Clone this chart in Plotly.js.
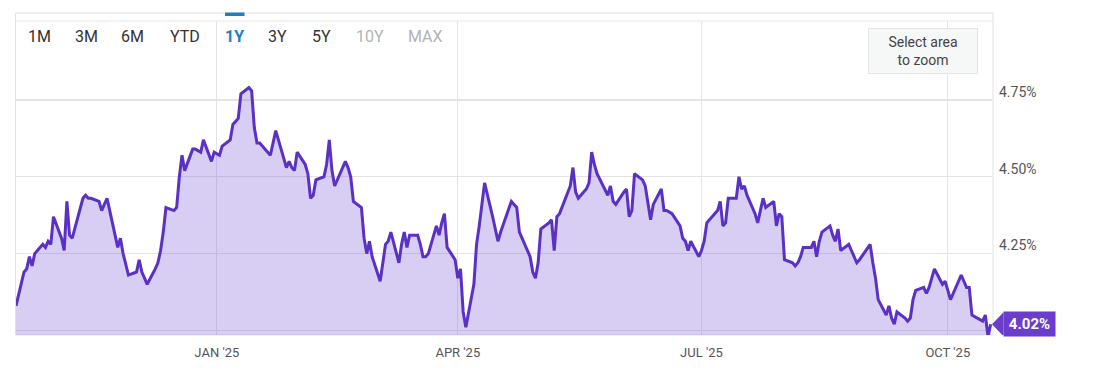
<!DOCTYPE html>
<html>
<head>
<meta charset="utf-8">
<script src="https://cdn.plot.ly/plotly-3.0.1.min.js"></script>
<style>
  html, body { margin: 0; padding: 0; background: #ffffff; }
  #chart { width: 1097px; height: 372px; }
</style>
</head>
<body>
<div id="chart"></div>
<script>
// ---- data (10-year yield, %, business days) ----
const dates = [
  '2024-10-18','2024-10-21','2024-10-22','2024-10-23','2024-10-24','2024-10-25','2024-10-28','2024-10-29','2024-10-30','2024-10-31',
  '2024-11-01','2024-11-04','2024-11-05','2024-11-06','2024-11-07','2024-11-08','2024-11-12','2024-11-13','2024-11-14','2024-11-15',
  '2024-11-18','2024-11-19','2024-11-20','2024-11-21','2024-11-22','2024-11-25','2024-11-26','2024-11-27','2024-11-29',
  '2024-12-02','2024-12-03','2024-12-04','2024-12-05','2024-12-06','2024-12-09','2024-12-10','2024-12-11','2024-12-12','2024-12-13',
  '2024-12-16','2024-12-17','2024-12-18','2024-12-19','2024-12-20','2024-12-23','2024-12-24','2024-12-26','2024-12-27','2024-12-30','2024-12-31',
  '2025-01-02','2025-01-03','2025-01-06','2025-01-07','2025-01-08','2025-01-09','2025-01-10','2025-01-13','2025-01-14','2025-01-15',
  '2025-01-16','2025-01-17','2025-01-21','2025-01-22','2025-01-23','2025-01-24','2025-01-27','2025-01-28','2025-01-29','2025-01-30','2025-01-31',
  '2025-02-03','2025-02-04','2025-02-05','2025-02-06','2025-02-07','2025-02-10','2025-02-11','2025-02-12','2025-02-13','2025-02-14',
  '2025-02-18','2025-02-19','2025-02-20','2025-02-21','2025-02-24','2025-02-25','2025-02-26','2025-02-27','2025-02-28',
  '2025-03-03','2025-03-04','2025-03-05','2025-03-06','2025-03-07','2025-03-10','2025-03-11','2025-03-12','2025-03-13','2025-03-14',
  '2025-03-17','2025-03-18','2025-03-19','2025-03-20','2025-03-21','2025-03-24','2025-03-25','2025-03-26','2025-03-27','2025-03-28','2025-03-31',
  '2025-04-01','2025-04-02','2025-04-03','2025-04-04','2025-04-07','2025-04-08','2025-04-09','2025-04-10','2025-04-11',
  '2025-04-14','2025-04-15','2025-04-16','2025-04-17','2025-04-21','2025-04-22','2025-04-23','2025-04-24','2025-04-25','2025-04-28','2025-04-29','2025-04-30',
  '2025-05-01','2025-05-02','2025-05-05','2025-05-06','2025-05-07','2025-05-08','2025-05-09','2025-05-12','2025-05-13','2025-05-14','2025-05-15','2025-05-16',
  '2025-05-19','2025-05-20','2025-05-21','2025-05-22','2025-05-23','2025-05-27','2025-05-28','2025-05-29','2025-05-30',
  '2025-06-02','2025-06-03','2025-06-04','2025-06-05','2025-06-06','2025-06-09','2025-06-10','2025-06-11','2025-06-12','2025-06-13',
  '2025-06-16','2025-06-17','2025-06-18','2025-06-20','2025-06-23','2025-06-24','2025-06-25','2025-06-26','2025-06-27','2025-06-30',
  '2025-07-01','2025-07-02','2025-07-03','2025-07-07','2025-07-08','2025-07-09','2025-07-10','2025-07-11','2025-07-14','2025-07-15',
  '2025-07-16','2025-07-17','2025-07-18','2025-07-21','2025-07-22','2025-07-23','2025-07-24','2025-07-25','2025-07-28','2025-07-29','2025-07-30','2025-07-31',
  '2025-08-01','2025-08-04','2025-08-05','2025-08-06','2025-08-07','2025-08-08','2025-08-11','2025-08-12','2025-08-13','2025-08-14','2025-08-15',
  '2025-08-18','2025-08-19','2025-08-20','2025-08-21','2025-08-22','2025-08-25','2025-08-26','2025-08-27','2025-08-28','2025-08-29',
  '2025-09-02','2025-09-03','2025-09-04','2025-09-05','2025-09-08','2025-09-09','2025-09-10','2025-09-11','2025-09-12',
  '2025-09-15','2025-09-16','2025-09-17','2025-09-18','2025-09-19','2025-09-22','2025-09-23','2025-09-24','2025-09-25','2025-09-26','2025-09-29','2025-09-30',
  '2025-10-01','2025-10-02','2025-10-03','2025-10-06','2025-10-07','2025-10-08','2025-10-09','2025-10-10','2025-10-14','2025-10-15','2025-10-16','2025-10-17'
];
const yields = [
  4.08,4.19,4.20,4.24,4.21,4.25,4.28,4.27,4.29,4.28,
  4.37,4.30,4.26,4.42,4.31,4.30,4.43,4.44,4.43,4.43,
  4.42,4.39,4.41,4.43,4.39,4.27,4.30,4.25,4.18,
  4.19,4.23,4.19,4.17,4.15,4.20,4.22,4.26,4.32,4.40,
  4.39,4.40,4.50,4.57,4.52,4.59,4.59,4.58,4.62,4.55,4.58,
  4.57,4.60,4.62,4.67,4.68,4.69,4.77,4.79,4.78,4.66,
  4.61,4.61,4.57,4.61,4.65,4.62,4.53,4.55,4.53,4.52,4.58,
  4.54,4.51,4.43,4.44,4.49,4.50,4.54,4.62,4.52,4.47,
  4.55,4.53,4.50,4.42,4.40,4.30,4.25,4.29,4.24,
  4.16,4.22,4.28,4.29,4.32,4.22,4.28,4.32,4.27,4.31,
  4.31,4.28,4.24,4.24,4.25,4.34,4.31,4.35,4.38,4.27,4.23,
  4.17,4.20,4.06,4.01,4.15,4.28,4.34,4.42,4.48,
  4.37,4.33,4.29,4.32,4.42,4.41,4.40,4.32,4.30,4.24,4.19,4.17,
  4.22,4.33,4.35,4.36,4.26,4.37,4.38,4.45,4.47,4.53,4.45,4.43,
  4.46,4.48,4.58,4.54,4.51,4.44,4.47,4.42,4.41,
  4.45,4.46,4.37,4.39,4.51,4.49,4.47,4.42,4.36,4.41,
  4.46,4.39,4.39,4.38,4.34,4.30,4.29,4.26,4.29,4.24,
  4.26,4.29,4.35,4.39,4.42,4.34,4.35,4.43,4.43,4.50,
  4.46,4.47,4.44,4.38,4.35,4.39,4.43,4.40,4.42,4.34,4.38,4.37,
  4.23,4.22,4.21,4.22,4.24,4.27,4.27,4.29,4.24,4.29,4.32,
  4.34,4.31,4.29,4.33,4.26,4.28,4.26,4.24,4.22,4.23,
  4.28,4.22,4.17,4.10,4.05,4.08,4.04,4.02,4.06,
  4.04,4.03,4.04,4.10,4.13,4.14,4.12,4.14,4.17,4.20,4.15,4.16,
  4.13,4.10,4.12,4.18,4.16,4.14,4.14,4.05,4.03,4.05,3.98,4.02
];
const xTickVals = ['2025-01-01','2025-04-01','2025-07-01','2025-10-01'];
const xTickText = ["JAN '25","APR '25","JUL '25","OCT '25"];
const yTickVals = [4.00, 4.25, 4.50, 4.75];
const yTickText = ['', '4.25%', '4.50%', '4.75%'];
const periods = ['1M','3M','6M','YTD','1Y','3Y','5Y','10Y','MAX'];
const periodX = [39, 86, 132.5, 185, 234, 277.5, 321, 369.5, 425.5];
const periodState = ['on','on','on','on','active','on','on','off','off'];

// ---- layout geometry ----
const ML = 16, PW = 976, PT = 21, PB = 335, PH = PB - PT;
const px = x => (x - ML) / PW;
const py = y => (PB - y) / PH;

const purple = '#5a31c4';
const badge = '#6a3dcc';
const lastVal = yields[yields.length - 1];

const trace = {
  type: 'scatter',
  mode: 'lines',
  x: dates,
  y: yields,
  line: { color: purple, width: 3, shape: 'linear' },
  fill: 'tozeroy',
  fillcolor: 'rgba(112,72,212,0.27)',
  hoverinfo: 'skip'
};

const annotations = periods.map((p, i) => ({
  xref: 'paper', yref: 'paper',
  x: px(periodX[i]), y: py(36),
  xanchor: 'center', yanchor: 'middle',
  showarrow: false,
  text: periodState[i] === 'active' ? '<b>' + p + '</b>' : p,
  font: {
    family: 'Roboto, sans-serif', size: 16,
    color: periodState[i] === 'active' ? '#1f7fc4' : (periodState[i] === 'off' ? '#b3b3b3' : '#333333')
  }
}));

annotations.push({
  xref: 'paper', yref: 'paper',
  x: px(923), y: py(51),
  xanchor: 'center', yanchor: 'middle',
  showarrow: false,
  text: 'Select area<br>to zoom',
  align: 'center',
  width: 106, height: 42,
  bgcolor: 'rgba(245,246,246,0.9)',
  bordercolor: '#e4e4e4', borderwidth: 1, borderpad: 1,
  font: { family: 'Roboto, sans-serif', size: 14, color: '#444444' }
});

annotations.push({
  xref: 'paper', yref: 'y',
  x: 1, y: lastVal,
  xanchor: 'left', yanchor: 'middle',
  xshift: 11,
  showarrow: false,
  text: '<b>' + lastVal.toFixed(2) + '%</b>',
  width: 45, height: 18, borderpad: 3,
  bgcolor: badge,
  font: { family: 'Roboto, sans-serif', size: 15, color: '#ffffff' }
});

const shapes = [
  { type: 'rect', xref: 'paper', yref: 'paper', x0: px(15.5), x1: px(993), y0: 0, y1: py(13), layer: 'below',
    line: { color: '#e2e2e2', width: 1 }, fillcolor: 'rgba(0,0,0,0)' },
  { type: 'line', xref: 'paper', yref: 'paper', x0: px(15.5), x1: px(993), y0: 1, y1: 1, layer: 'below',
    line: { color: '#e6e6e6', width: 1 } },
  { type: 'rect', xref: 'paper', yref: 'paper', x0: px(225), x1: px(244.5), y0: py(16), y1: py(12.5),
    line: { width: 0 }, fillcolor: '#1f7fc4' },
  { type: 'path', xref: 'paper', yref: 'y', xsizemode: 'pixel', ysizemode: 'pixel',
    xanchor: 1, yanchor: lastVal,
    path: 'M 0 0 L 11.5 12 L 11.5 -12 Z',
    fillcolor: badge, line: { width: 0 } }
];

const layout = {
  width: 1097, height: 372,
  margin: { l: ML, r: 1097 - ML - PW, t: PT, b: 372 - PB, pad: 0 },
  paper_bgcolor: '#ffffff',
  plot_bgcolor: '#ffffff',
  showlegend: false,
  dragmode: false,
  font: { family: 'Roboto, sans-serif' },
  xaxis: {
    type: 'date',
    range: ['2024-10-18', '2025-10-17 12:00'],
    tickvals: xTickVals,
    ticktext: xTickText,
    showgrid: true,
    gridcolor: '#e4e4e4',
    gridwidth: 1,
    zeroline: false,
    showline: false,
    ticks: '',
    ticklabelstandoff: 8,
    tickfont: { family: 'Roboto, sans-serif', size: 13, color: '#555555' },
    fixedrange: true
  },
  yaxis: {
    side: 'right',
    range: [3.985, 5.007],
    tickvals: yTickVals,
    ticktext: yTickText,
    showgrid: true,
    gridcolor: '#e4e4e4',
    gridwidth: 1.2,
    zeroline: false,
    showline: false,
    ticks: '',
    ticklabelshift: -8,
    ticklabelstandoff: 6,
    tickfont: { family: 'Roboto, sans-serif', size: 14, color: '#555555' },
    fixedrange: true
  },
  annotations: annotations,
  shapes: shapes
};

Plotly.newPlot('chart', [trace], layout, { displayModeBar: false, staticPlot: true });
</script>
</body>
</html>
